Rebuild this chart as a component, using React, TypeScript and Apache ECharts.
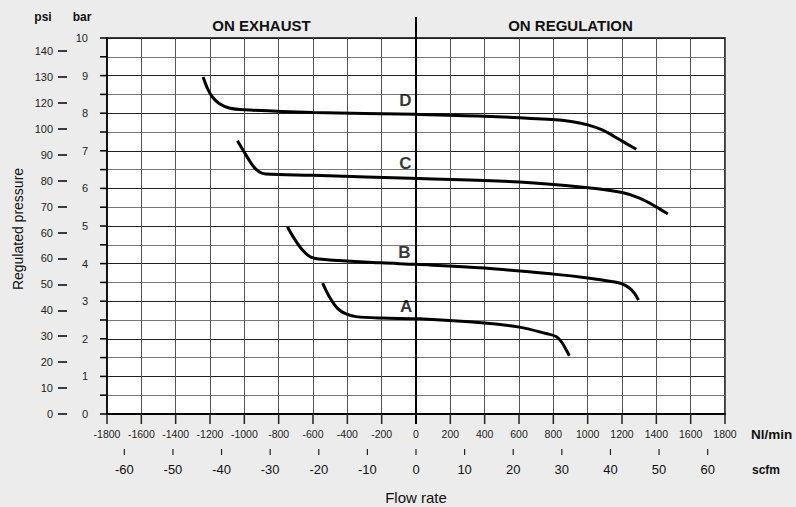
import React, { useEffect, useRef } from 'react';
import * as echarts from 'echarts';

// Axis ranges / ticks
const flowMin = -1800;
const flowMax = 1800;
const flowInterval = 200;
const nlPerScfm = 28.3168;
const scfmTicks = [-60, -50, -40, -30, -20, -10, 0, 10, 20, 30, 40, 50, 60];
const barMax = 10;
const barMinorStep = 0.5;
const psiPerBar = 14.5038;
const psiTicks = [0, 10, 20, 30, 40, 50, 60, 70, 80, 90, 100, 110, 120, 130, 140];
const psiLabels = ['0', '10', '20', '30', '40', '50', '60', '60', '70', '80', '90', '100', '120', '130', '140'];

// Curve A
const flowA = [-544, -505, -457, -408, -350, -200, 19, 398, 602, 758, 816, 845, 870, 893];
const pressureA = [3.48, 3.12, 2.81, 2.66, 2.59, 2.55, 2.53, 2.42, 2.31, 2.14, 2.06, 1.93, 1.75, 1.55];
// Curve B
const flowB = [-749, -710, -661, -612, -535, -200, 0, 398, 800, 1000, 1146, 1201, 1243, 1273, 1296];
const pressureB = [4.98, 4.67, 4.36, 4.17, 4.11, 4.02, 3.98, 3.88, 3.72, 3.62, 3.52, 3.46, 3.35, 3.21, 3.03];
// Curve C
const flowC = [-1040, -1001, -953, -914, -875, -599, 19, 602, 1000, 1201, 1302, 1399, 1467];
const pressureC = [7.27, 6.97, 6.62, 6.44, 6.38, 6.35, 6.26, 6.17, 6.02, 5.89, 5.74, 5.51, 5.32];
// Curve D
const flowD = [-1240, -1215, -1186, -1147, -1088, -1001, -599, 0, 398, 796, 913, 1000, 1088, 1185, 1283];
const pressureD = [8.96, 8.66, 8.43, 8.26, 8.14, 8.09, 8.02, 7.97, 7.92, 7.83, 7.77, 7.69, 7.55, 7.30, 7.04];

// Curve letters
const curveNames = ['A', 'B', 'C', 'D'];
const labelFlow = [-58, -68, -62, -62];
const labelPressure = [2.86, 4.3, 6.65, 8.34];

const SANS = '"Liberation Sans", Arial, sans-serif';

const zip = (xs: number[], ys: number[]) => xs.map((x, i) => [x, ys[i]]);

export default function App() {
  const ref = useRef<HTMLDivElement>(null);

  useEffect(() => {
    if (!ref.current) return;
    document.body.style.margin = '0';
    document.body.style.background = '#ececec';
    const chart = echarts.init(ref.current, null, { renderer: 'svg' });

    const curves = [
      { name: 'A', data: zip(flowA, pressureA) },
      { name: 'B', data: zip(flowB, pressureB) },
      { name: 'C', data: zip(flowC, pressureC) },
      { name: 'D', data: zip(flowD, pressureD) },
    ];

    const option: any = {
      animation: false,
      backgroundColor: '#ececec',
      textStyle: { fontFamily: SANS },
      grid: {
        left: 107,
        right: 71,
        top: 38,
        bottom: 93,
        containLabel: false,
        show: true,
        backgroundColor: '#ffffff',
        borderColor: '#000',
        borderWidth: 1.5,
      },
      xAxis: [
        {
          type: 'value',
          min: flowMin,
          max: flowMax,
          interval: flowInterval,
          position: 'bottom',
          axisLine: { show: true, onZero: false, lineStyle: { color: '#000', width: 2 } },
          axisTick: { show: false },
          axisLabel: { margin: 14, fontSize: 10.5, color: '#222', fontFamily: SANS, formatter: (v: number) => String(v) },
          splitLine: { show: true, lineStyle: { color: '#555', width: 1 } },
        },
        {
          type: 'value',
          min: flowMin / nlPerScfm,
          max: flowMax / nlPerScfm,
          position: 'bottom',
          offset: 35,
          axisLine: { show: true, onZero: false, lineStyle: { color: 'rgba(0,0,0,0)' } },
          axisTick: { show: false },
          axisLabel: {
            customValues: scfmTicks,
            margin: 14,
            fontSize: 13,
            color: '#111',
            fontFamily: SANS,
            formatter: (v: number) => String(Math.round(v)),
          },
          splitLine: { show: false },
        },
      ],
      yAxis: [
        {
          type: 'value',
          min: 0,
          max: barMax,
          interval: 1,
          position: 'left',
          axisLine: { show: true, onZero: false, lineStyle: { color: '#000', width: 1.5 } },
          axisTick: { show: false },
          minorTick: { show: false, splitNumber: 2 },
          splitLine: { show: true, lineStyle: { color: '#222', width: 1 } },
          minorSplitLine: { show: true, lineStyle: { color: '#777', width: 1 } },
          axisLabel: { margin: 19, fontSize: 11, color: '#222', fontFamily: SANS },
        },
        {
          type: 'value',
          min: 0,
          max: barMax * psiPerBar,
          position: 'left',
          offset: 40,
          axisLine: { show: true, onZero: false, lineStyle: { color: 'rgba(0,0,0,0)' } },
          axisTick: { show: true, length: 9, customValues: psiTicks, lineStyle: { color: '#000', width: 1.5 } },
          axisLabel: {
            customValues: psiTicks,
            margin: 14,
            fontSize: 11,
            color: '#222',
            fontFamily: SANS,
            padding: [0, 0, 7, 0],
            formatter: (v: number) => psiLabels[Math.round(v / 10)],
          },
          splitLine: { show: false },
        },
      ],
      series: [
        ...curves.map((c) => ({
          name: c.name,
          type: 'line',
          xAxisIndex: 0,
          yAxisIndex: 0,
          data: c.data,
          showSymbol: false,
          symbol: 'none',
          smooth: 0.35,
          lineStyle: { color: '#000', width: 3 },
          z: 5,
        })),
        {
          type: 'scatter',
          xAxisIndex: 0,
          yAxisIndex: 0,
          symbolSize: 1,
          itemStyle: { color: 'rgba(0,0,0,0)' },
          data: curveNames.map((n, i) => ({ name: n, value: [labelFlow[i], labelPressure[i]] })),
          label: {
            show: true,
            position: 'inside',
            formatter: (p: any) => p.name,
            fontSize: 17,
            fontWeight: 'bold',
            color: '#000',
            fontFamily: SANS,
          },
          z: 6,
        },
      ],
    };

    chart.setOption(option);

    const px = (v: number) => chart.convertToPixel({ xAxisIndex: 0 }, v) as number;
    const pxScfm = (v: number) => chart.convertToPixel({ xAxisIndex: 1 }, v) as number;
    const py = (v: number) => chart.convertToPixel({ yAxisIndex: 0 }, v) as number;

    const x0 = px(0);
    const xLeft = px(flowMin);
    const yBottom = py(0);

    const tickGraphics: any[] = [];
    const nBar = Math.round(barMax / barMinorStep);
    for (let i = 0; i <= nBar; i++) {
      const y = py(i * barMinorStep);
      tickGraphics.push({ type: 'line', z: 20, shape: { x1: xLeft - 7, y1: y, x2: xLeft, y2: y }, style: { stroke: '#000', lineWidth: 1.5 } });
    }
    const nFlow = Math.round((flowMax - flowMin) / flowInterval);
    for (let i = 0; i <= nFlow; i++) {
      const x = px(flowMin + i * flowInterval);
      tickGraphics.push({ type: 'line', z: 20, shape: { x1: x, y1: yBottom, x2: x, y2: yBottom + 10 }, style: { stroke: '#222', lineWidth: 1.5 } });
    }
    scfmTicks.forEach((v) => {
      const x = pxScfm(v);
      tickGraphics.push({ type: 'line', z: 20, shape: { x1: x, y1: yBottom + 35, x2: x, y2: yBottom + 41 }, style: { stroke: '#222', lineWidth: 1.2 } });
    });

    chart.setOption({
      graphic: [
        ...tickGraphics,
        { type: 'line', z: 20, shape: { x1: x0, y1: 17, x2: x0, y2: yBottom + 10 }, style: { stroke: '#000', lineWidth: 2 } },
        { type: 'text', x: px(flowMin / 2), y: 25, style: { text: 'ON EXHAUST', fontSize: 15, fontWeight: 'bold', fontFamily: SANS, fill: '#111', align: 'center', verticalAlign: 'middle' } },
        { type: 'text', x: px(flowMax / 2), y: 25, style: { text: 'ON REGULATION', fontSize: 15, fontWeight: 'bold', fontFamily: SANS, fill: '#111', align: 'center', verticalAlign: 'middle' } },
        { type: 'text', x: 43, y: 17, style: { text: 'psi', fontSize: 12, fontWeight: 'bold', fontFamily: SANS, fill: '#111', align: 'center', verticalAlign: 'middle' } },
        { type: 'text', x: 82, y: 17, style: { text: 'bar', fontSize: 12, fontWeight: 'bold', fontFamily: SANS, fill: '#111', align: 'center', verticalAlign: 'middle' } },
        { type: 'text', x: 751, y: 434, style: { text: 'Nl/min', fontSize: 13.5, fontWeight: 'bold', fontFamily: SANS, fill: '#111', align: 'left', verticalAlign: 'middle' } },
        { type: 'text', x: 752, y: 470, style: { text: 'scfm', fontSize: 12, fontWeight: 'bold', fontFamily: SANS, fill: '#111', align: 'left', verticalAlign: 'middle' } },
        { type: 'text', x: x0, y: 497, style: { text: 'Flow rate', fontSize: 15, fontFamily: SANS, fill: '#111', align: 'center', verticalAlign: 'middle' } },
        { type: 'text', x: 18, y: 229, rotation: Math.PI / 2, style: { text: 'Regulated pressure', fontSize: 14, fontFamily: SANS, fill: '#111', align: 'center', verticalAlign: 'middle' } },
      ],
    });

    return () => chart.dispose();
  }, []);

  return <div ref={ref} style={{ position: 'absolute', left: 0, top: 0, width: 796, height: 507 }} />;
}
